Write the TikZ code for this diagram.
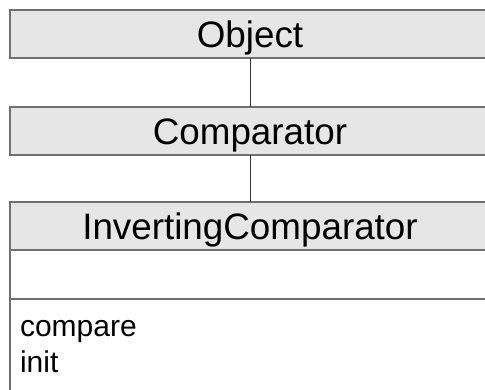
\documentclass[tikz,border=0pt]{standalone}
\usepackage{fontspec}
\setmainfont{Liberation Sans}
\definecolor{boxgray}{HTML}{E6E6E6}
\definecolor{linegray}{HTML}{707070}
\begin{document}
\begin{tikzpicture}[x=1pt,y=-1pt,
  every node/.style={inner sep=0pt, outer sep=0pt},
  classbox/.style={draw=linegray, line width=1.5pt, fill=boxgray, minimum width=480pt, minimum height=48pt, text height=26pt, text depth=0pt, font=\fontsize{36.8}{40}\selectfont},
  compbox/.style={draw=linegray, line width=1.5pt, fill=white, minimum width=480pt, anchor=north},
  member/.style={anchor=base west, font=\fontsize{30}{36}\selectfont},
  conn/.style={draw=black!80, line width=1pt}]
\useasboundingbox (0,0) rectangle (485,389);
\clip (0,0) rectangle (485,389);
\node[classbox] (obj) at (250,34) {Object};
\node[classbox] (cmp) at (250,131) {Comparator};
\node[classbox] (ich) at (250,226) {InvertingComparator};
\node[compbox, minimum height=49pt] (ica) at (ich.south) {};
\node[compbox, minimum height=150pt] (ico) at (ica.south) {};
\node[member] (m1) at (20,336) {compare};
\node[member] (m2) at (20,372) {init};
\draw[conn] (obj) -- (cmp);
\draw[conn] (cmp) -- (ich);
\end{tikzpicture}
\end{document}
